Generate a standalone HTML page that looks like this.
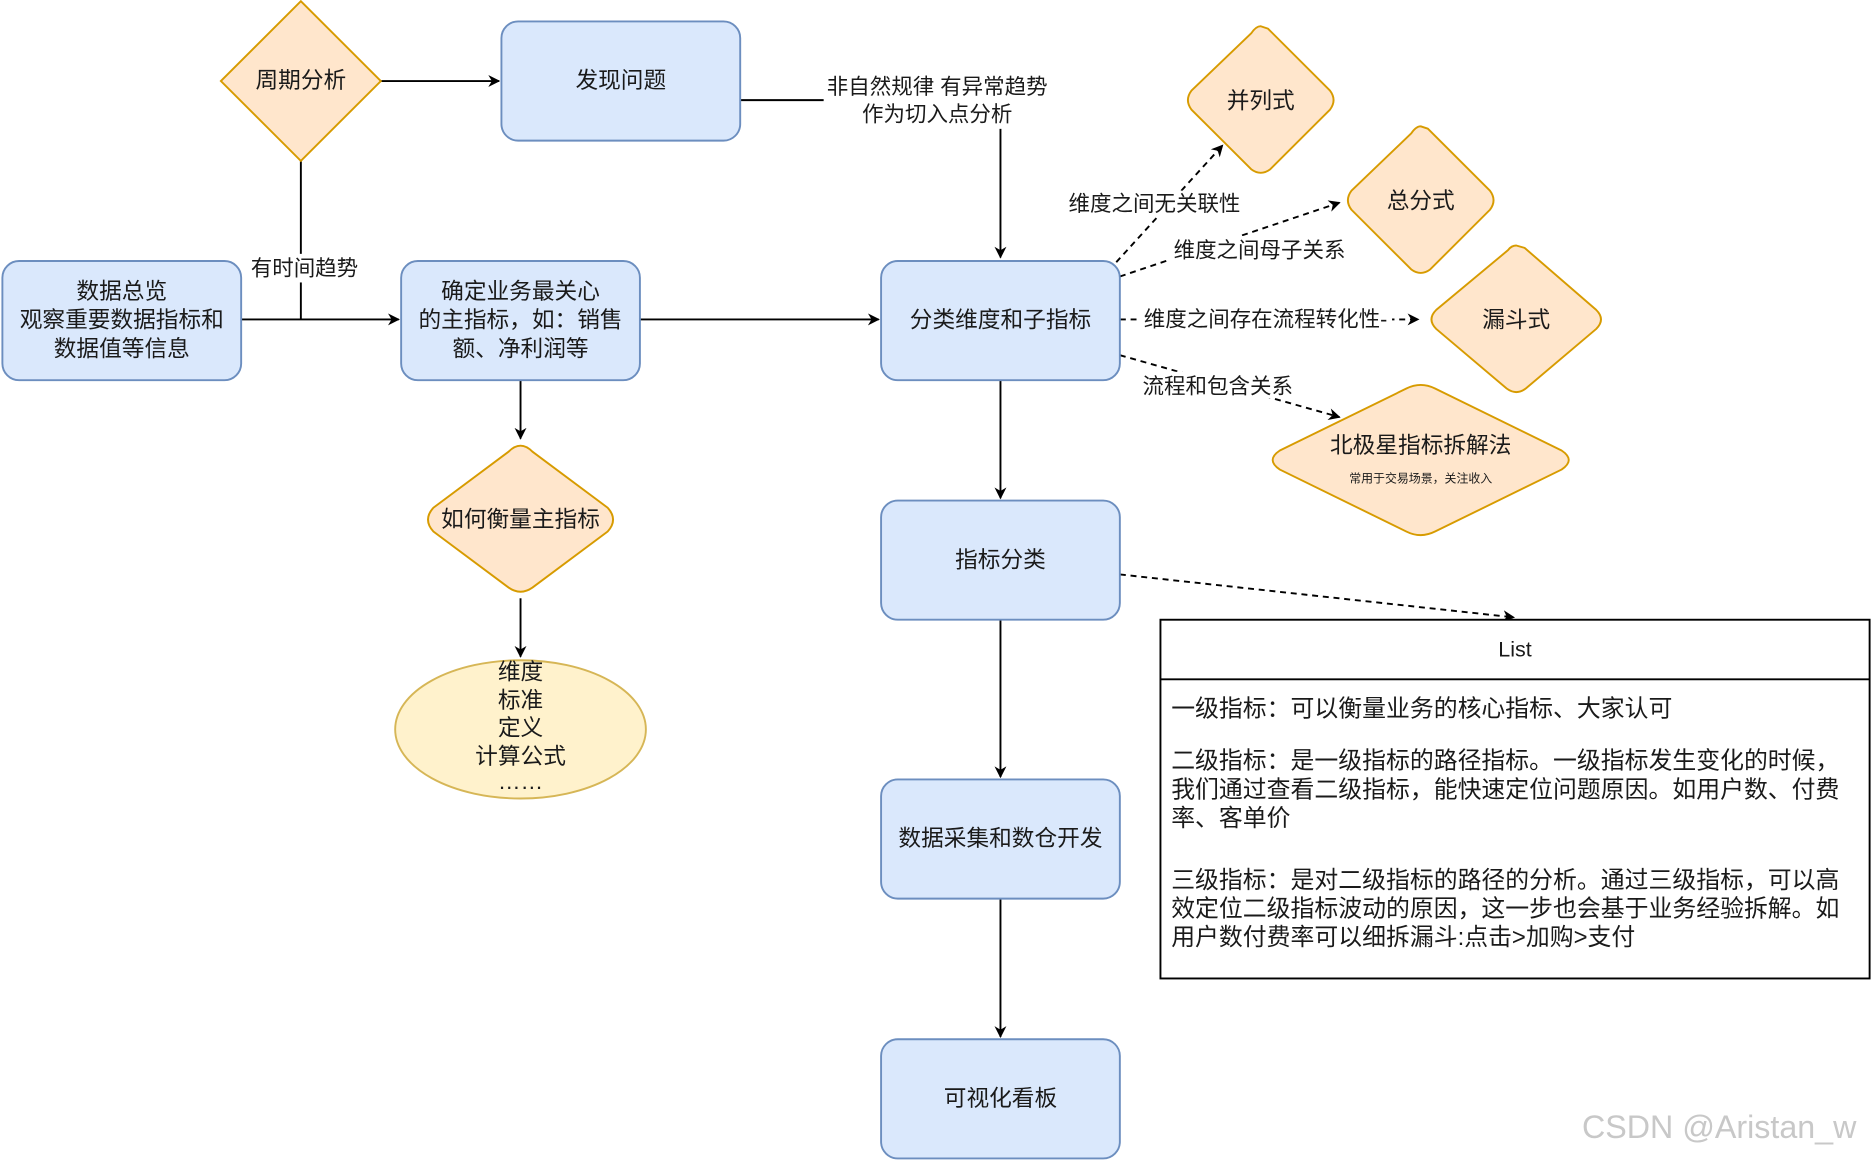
<!DOCTYPE html>
<html><head><meta charset="utf-8"><style>
html,body{margin:0;padding:0;background:#fff;}
svg{display:block;}
text{font-family:"Liberation Sans","Noto Sans CJK SC",sans-serif;fill:#1a1a1a;}
</style></head><body>
<svg width="1872" height="1162" viewBox="0 0 1568 975" preserveAspectRatio="none" xmlns="http://www.w3.org/2000/svg">
<defs>
<marker id="a" markerWidth="10" markerHeight="10" refX="9" refY="5" orient="auto" markerUnits="userSpaceOnUse"><path d="M0,0 L10,5 L0,10 L3,5 z" fill="#000"/></marker>
</defs>
<g stroke="#000" stroke-width="1.6" fill="none">
<line x1="319" y1="68" x2="418" y2="68" marker-end="url(#a)"/>
<polyline points="620,84 690,84"/>
<line x1="838" y1="108" x2="838" y2="216" marker-end="url(#a)"/>
<line x1="252" y1="135" x2="252" y2="268"/>
<line x1="202" y1="268" x2="334" y2="268" marker-end="url(#a)"/>
<line x1="536" y1="268" x2="736" y2="268" marker-end="url(#a)"/>
<line x1="436" y1="319" x2="436" y2="368" marker-end="url(#a)"/>
<line x1="436" y1="502" x2="436" y2="551" marker-end="url(#a)"/>
<line x1="838" y1="319" x2="838" y2="418" marker-end="url(#a)"/>
<line x1="838" y1="520" x2="838" y2="652" marker-end="url(#a)"/>
<line x1="838" y1="754" x2="838" y2="870" marker-end="url(#a)"/>
<g stroke-dasharray="5,4">
<line x1="935" y1="220" x2="1024" y2="122" marker-end="url(#a)"/>
<line x1="938" y1="232" x2="1122" y2="170" marker-end="url(#a)"/>
<line x1="938" y1="268" x2="1188" y2="268" marker-end="url(#a)"/>
<line x1="938" y1="298" x2="1122" y2="350" marker-end="url(#a)"/>
<line x1="938" y1="482" x2="1268" y2="518" marker-end="url(#a)"/>
</g>
</g>
<g fill="#fff">
<rect x="690" y="60" width="190" height="48"/>
<rect x="208" y="213" width="92" height="24"/>
<rect x="892" y="160" width="150" height="22"/>
<rect x="980" y="198" width="150" height="22"/>
<rect x="952" y="257" width="214" height="22"/>
<rect x="955" y="312" width="130" height="22"/>
</g>
<g font-size="18" text-anchor="middle">
<text x="785" y="79">非自然规律 有异常趋势</text>
<text x="785" y="102">作为切入点分析</text>
<text x="255" y="231">有时间趋势</text>
<text x="967" y="177">维度之间无关联性</text>
<text x="1055" y="216">维度之间母子关系</text>
<text x="1060" y="274">维度之间存在流程转化性-</text>
<text x="1020" y="330">流程和包含关系</text>
</g>
<g fill="#dae8fc" stroke="#6c8ebf" stroke-width="1.6">
<rect x="420" y="18" width="200" height="100" rx="14"/>
<rect x="2" y="219" width="200" height="100" rx="14"/>
<rect x="336" y="219" width="200" height="100" rx="14"/>
<rect x="738" y="219" width="200" height="100" rx="14"/>
<rect x="738" y="420" width="200" height="100" rx="14"/>
<rect x="738" y="654" width="200" height="100" rx="14"/>
<rect x="738" y="872" width="200" height="100" rx="14"/>
</g>
<g fill="#ffe6cc" stroke="#d79b00" stroke-width="1.6" stroke-linejoin="round">
<polygon points="252,1 319,68 252,135 185,68" stroke-linejoin="miter"/>
<path d="M436,374 Q441,374 446,379 L509,426 Q518,436 509,446 L446,493 Q436,500 426,493 L363,446 Q354,436 363,426 L426,379 Q431,374 436,374z"/>
<path d="M1056,22 L1062,24 L1114,76 Q1120,84 1114,92 L1064,142 Q1056,148 1048,142 L998,92 Q992,84 998,76 L1048,28 Q1052,22 1056,22z"/>
<path d="M1190,106 L1196,108 L1248,160 Q1254,168 1248,176 L1198,226 Q1190,232 1182,226 L1132,176 Q1126,168 1132,160 L1182,112 Q1186,106 1190,106z"/>
<path d="M1270,206 L1277,208 L1337,260 Q1345,268 1337,276 L1278,326 Q1270,332 1262,326 L1203,276 Q1195,268 1203,260 L1263,210 Q1266,206 1270,206z"/>
<path d="M1190,323 Q1196,323 1202,326 L1308,378 Q1320,386 1308,394 L1202,446 Q1190,452 1178,446 L1072,394 Q1060,386 1072,378 L1178,326 Q1184,323 1190,323z"/>
</g>
<ellipse cx="436" cy="612" rx="105" ry="58" fill="#fff2cc" stroke="#d6b656" stroke-width="1.6"/>
<g font-size="19" text-anchor="middle">
<text x="252" y="74">周期分析</text>
<text x="520" y="74">发现问题</text>
<text x="102" y="251">数据总览</text>
<text x="102" y="275">观察重要数据指标和</text>
<text x="102" y="299">数据值等信息</text>
<text x="436" y="251">确定业务最关心</text>
<text x="436" y="275">的主指标，如：销售</text>
<text x="436" y="299">额、净利润等</text>
<text x="838" y="275">分类维度和子指标</text>
<text x="436" y="442">如何衡量主指标</text>
<text x="436" y="570">维度</text>
<text x="436" y="594">标准</text>
<text x="436" y="617">定义</text>
<text x="436" y="641">计算公式</text>
<text x="436" y="662">……</text>
<text x="838" y="476">指标分类</text>
<text x="838" y="710">数据采集和数仓开发</text>
<text x="838" y="928">可视化看板</text>
<text x="1056" y="91">并列式</text>
<text x="1190" y="175">总分式</text>
<text x="1270" y="275">漏斗式</text>
<text x="1190" y="380">北极星指标拆解法</text>
<text x="1190" y="405" font-size="10">常用于交易场景，关注收入</text>
</g>
<rect x="972" y="520" width="594" height="301" fill="#fff" stroke="#000" stroke-width="1.6"/>
<line x1="972" y1="570" x2="1566" y2="570" stroke="#000" stroke-width="1.6"/>
<g font-size="20">
<text x="1269" y="551" text-anchor="middle" font-size="18">List</text>
<text x="981" y="601">一级指标：可以衡量业务的核心指标、大家认可</text>
<text x="981" y="645">二级指标：是一级指标的路径指标。一级指标发生变化的时候，</text>
<text x="981" y="669">我们通过查看二级指标，能快速定位问题原因。如用户数、付费</text>
<text x="981" y="693">率、客单价</text>
<text x="981" y="745">三级指标：是对二级指标的路径的分析。通过三级指标，可以高</text>
<text x="981" y="769">效定位二级指标波动的原因，这一步也会基于业务经验拆解。如</text>
<text x="981" y="793">用户数付费率可以细拆漏斗:点击&gt;加购&gt;支付</text>
</g>
<text x="1440" y="955" font-size="27" text-anchor="middle" style="fill:#c8c8c8">CSDN @Aristan_w</text>
</svg>
</body></html>
